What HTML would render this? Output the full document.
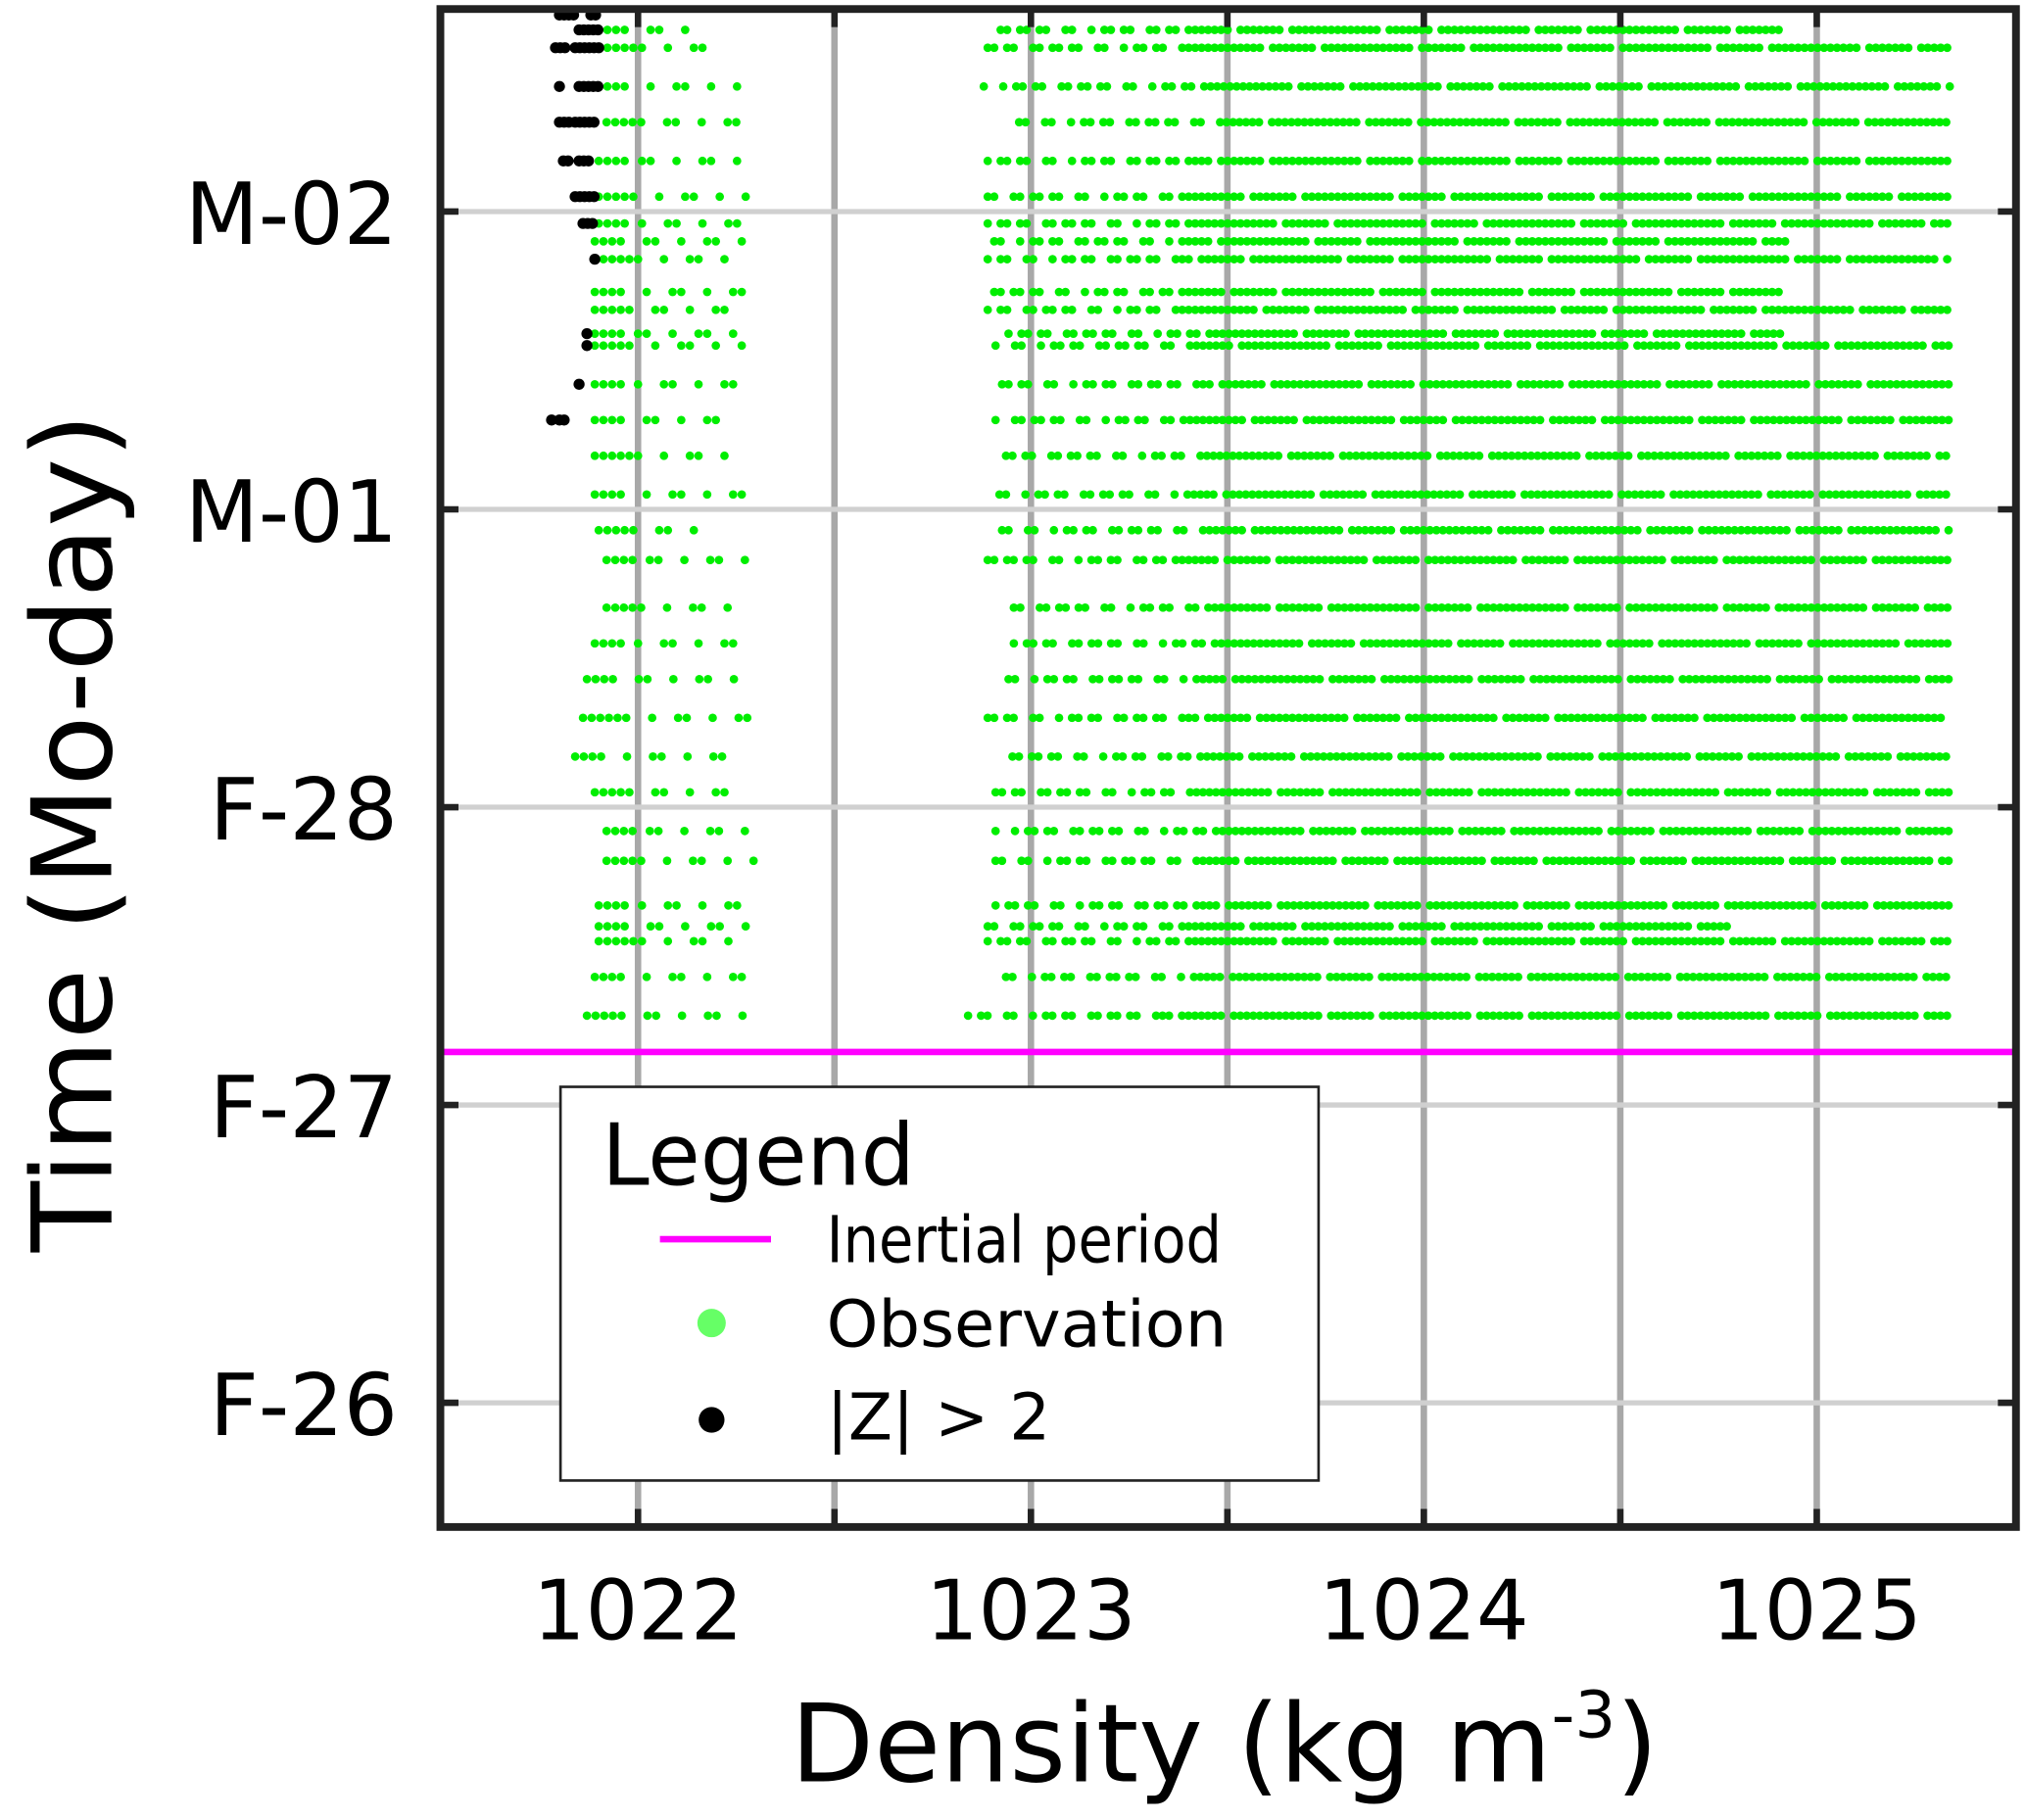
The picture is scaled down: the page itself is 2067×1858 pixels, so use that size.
<!DOCTYPE html>
<html><head><meta charset="utf-8"><style>
html,body{margin:0;padding:0;background:#fff;}
svg{display:block;font-family:"DejaVu Sans","Liberation Sans",sans-serif;}
</style></head><body>
<svg id="chart" width="2067" height="1858" viewBox="0 0 1568 1410" preserveAspectRatio="none" xmlns="http://www.w3.org/2000/svg">
<g id="grid"></g>
<g id="marks"></g>
<line id="inertial" stroke="#ff00ff" stroke-width="5"/>
<rect x="341" y="7" width="1220" height="1176" fill="none" stroke="#222" stroke-width="6"/>
<g id="ticks"></g>
<text x="948" y="1380" font-size="84" text-anchor="middle">Density (kg m<tspan dy="-34" font-size="50">-3</tspan><tspan dy="34">)</tspan></text>
<text transform="translate(86,645) rotate(-90)" font-size="86" text-anchor="middle" textLength="650" lengthAdjust="spacingAndGlyphs">Time (Mo-day)</text>
<g>
<rect x="434" y="842" width="587" height="305" fill="#fff" stroke="#222" stroke-width="2"/>
<text x="466" y="918" font-size="66">Legend</text>
<line x1="511" y1="960" x2="597" y2="960" stroke="#ff00ff" stroke-width="5"/>
<text x="640" y="978" font-size="50" textLength="306" lengthAdjust="spacingAndGlyphs">Inertial period</text>
<circle cx="551" cy="1025" r="11" fill="#66ff66"/>
<text x="640" y="1043" font-size="50" textLength="310" lengthAdjust="spacingAndGlyphs">Observation</text>
<circle cx="551" cy="1100" r="10" fill="#000"/>
<text x="640" y="1115" font-size="50">|Z| &gt; 2</text>
</g>
</svg>
<script>
const xTicks = [1022, 1023, 1024, 1025];
const xTickLabels = ["1022", "1023", "1024", "1025"];
const xMinor = [1022.5, 1023.5, 1024.5];
const yTicks = [0, 1, 2, 3, 4];
const yTickLabels = ["F-26", "F-27", "F-28", "M-01", "M-02"];
const inertialTime = 1.178;
// observation rows: time (days since F-26), left cluster [start,end], right cluster [start,end]
const rowTimes = [4.61,4.55,4.42,4.30,4.17,4.05,3.96,3.90,3.84,3.73,3.67,3.59,3.55,3.42,3.30,3.18,3.05,2.93,2.83,2.67,2.55,2.43,2.30,2.17,2.05,1.92,1.82,1.67,1.60,1.55,1.43,1.30];
const leftStart = [1021.90,1021.90,1021.90,1021.92,1021.90,1021.90,1021.90,1021.89,1021.89,1021.89,1021.89,1021.89,1021.89,1021.89,1021.89,1021.89,1021.89,1021.90,1021.92,1021.92,1021.89,1021.87,1021.86,1021.84,1021.89,1021.92,1021.92,1021.90,1021.90,1021.90,1021.89,1021.87];
const leftEnd = [1022.17,1022.17,1022.27,1022.28,1022.27,1022.28,1022.28,1022.28,1022.23,1022.27,1022.27,1022.27,1022.27,1022.25,1022.25,1022.27,1022.32,1022.18,1022.28,1022.28,1022.27,1022.25,1022.28,1022.27,1022.28,1022.30,1022.30,1022.27,1022.32,1022.28,1022.30,1022.32];
const rightStart = [1022.89,1022.89,1022.88,1022.97,1022.89,1022.89,1022.89,1022.89,1022.89,1022.89,1022.89,1022.91,1022.91,1022.91,1022.91,1022.92,1022.92,1022.91,1022.89,1022.94,1022.94,1022.91,1022.89,1022.92,1022.91,1022.91,1022.91,1022.91,1022.89,1022.89,1022.92,1022.84];
const rightEnd = [1024.91,1025.34,1025.34,1025.34,1025.34,1025.34,1025.34,1024.93,1025.34,1024.91,1025.34,1024.91,1025.34,1025.34,1025.34,1025.34,1025.34,1025.34,1025.34,1025.34,1025.34,1025.34,1025.34,1025.34,1025.34,1025.34,1025.34,1025.34,1024.78,1025.34,1025.34,1025.34];
// |Z|>2 outliers
const zTimes = [4.66,4.66,4.61,4.55,4.55,4.42,4.42,4.30,4.30,4.17,4.17,4.05,3.96,3.84,3.59,3.55,3.42,3.30,3.30];
const zStart = [1021.80,1021.88,1021.85,1021.79,1021.84,1021.80,1021.85,1021.80,1021.84,1021.81,1021.85,1021.84,1021.86,1021.89,1021.87,1021.87,1021.85,1021.78,1021.80];
const zEnd = [1021.84,1021.90,1021.90,1021.82,1021.90,1021.81,1021.90,1021.83,1021.89,1021.83,1021.88,1021.89,1021.89,1021.89,1021.87,1021.87,1021.86,1021.79,1021.82];

const NS = "http://www.w3.org/2000/svg";
const X0 = 341, X1 = 1561, Y0 = 7, Y1 = 1183;
const dMin = 1021.497, dMax = 1025.507, tMin = -0.417, tMax = 4.68;
function xs(d){ return X0 + (d - dMin) / (dMax - dMin) * (X1 - X0); }
function ys(t){ return Y1 - (t - tMin) / (tMax - tMin) * (Y1 - Y0); }
function mk(tag, attrs, parent){ const e = document.createElementNS(NS, tag); for (const k in attrs) e.setAttribute(k, attrs[k]); parent.appendChild(e); return e; }

const grid = document.getElementById('grid');
const ticks = document.getElementById('ticks');
const marks = document.getElementById('marks');
xTicks.concat(xMinor).forEach((d) => {
  const l = mk('line', {x1: xs(d), x2: xs(d), y1: Y0, y2: Y1, stroke: '#a8a8a8', 'stroke-width': 5}, grid);
  
  
  const t1 = mk('line', {x1: xs(d), x2: xs(d), y1: Y0, y2: Y0 + 14, stroke: '#222', 'stroke-width': 5}, ticks);
  
  
  const t2 = mk('line', {x1: xs(d), x2: xs(d), y1: Y1, y2: Y1 - 14, stroke: '#222', 'stroke-width': 5}, ticks);
  
  
});
xTicks.forEach((d, i) => {
  const tx = mk('text', {x: xs(d), y: 1270, 'font-size': 64, 'text-anchor': 'middle'}, ticks);
  tx.textContent = xTickLabels[i];
  
  
});
yTicks.forEach((t, i) => {
  const l = mk('line', {x1: X0, x2: X1, y1: ys(t), y2: ys(t), stroke: '#d0d0d0', 'stroke-width': 4}, grid);
  
  
  const t1 = mk('line', {x1: X0, x2: X0 + 14, y1: ys(t), y2: ys(t), stroke: '#222', 'stroke-width': 5}, ticks);
  
  
  const t2 = mk('line', {x1: X1, x2: X1 - 14, y1: ys(t), y2: ys(t), stroke: '#222', 'stroke-width': 5}, ticks);
  
  
  const tx = mk('text', {x: 308, y: ys(t) + 25, 'font-size': 66, 'text-anchor': 'end'}, ticks);
  tx.textContent = yTickLabels[i];
  
  
});

const inert = document.getElementById('inertial');
inert.setAttribute('x1', X0); inert.setAttribute('x2', X1);
inert.setAttribute('y1', ys(inertialTime)); inert.setAttribute('y2', ys(inertialTime));

rowTimes.forEach((t, r) => {
  const y = ys(t);
  let i = 0;
  for (let d = leftStart[r]; d <= leftEnd[r] + 1e-6; d += 0.022, i++) {
    if (i > 3 && ((i * 5 + r * 3) % 7 > 2)) continue;
    const c = mk('circle', {cx: xs(d), cy: y, r: 3.3, fill: '#00ee00'}, marks);
    
    
  }
  i = 0;
  for (let d = rightStart[r]; d <= rightEnd[r] + 1e-6; d += 0.0165, i++) {
    const k = (i * 7 + r * 11) % 23;
    if (d < rightStart[r] + 0.5 && k < 9) continue;
    if (k === 0 || k === 13) continue;
    const c = mk('circle', {cx: xs(d), cy: y, r: 3.3, fill: '#00ee00'}, marks);
    
    
  }
});
zTimes.forEach((t, r) => {
  for (let d = zStart[r]; d <= zEnd[r] + 1e-6; d += 0.012) {
    const c = mk('circle', {cx: xs(d), cy: ys(t), r: 4.3, fill: '#000'}, marks);
    
    
  }
});
</script>
</body></html>
